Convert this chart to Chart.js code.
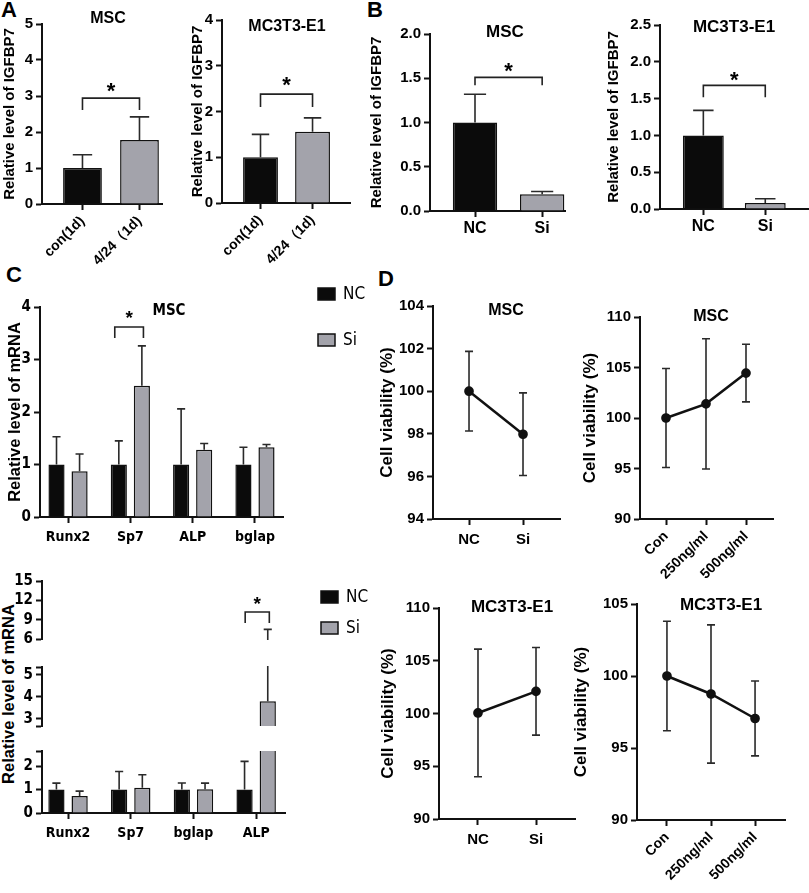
<!DOCTYPE html>
<html><head><meta charset="utf-8">
<script src="https://cdn.jsdelivr.net/npm/chart.js@4/dist/chart.umd.min.js"></script>
<style>
html,body{margin:0;padding:0;background:#fff}
body{width:809px;height:893px;position:relative;overflow:hidden;font-family:'Liberation Sans',Arial,sans-serif}
canvas{position:absolute}
.pl{position:absolute;font-weight:bold;font-size:22px;line-height:22px;color:#000}
.yt{position:absolute;width:240px;height:20px;line-height:20px;text-align:center;font-weight:bold;font-size:16.5px;transform:rotate(-90deg);white-space:nowrap;color:#000}
</style></head><body>
<div class="pl" style="left:1px;top:-1px">A</div>
<div class="pl" style="left:367px;top:-1px">B</div>
<div class="pl" style="left:6px;top:264px">C</div>
<div class="pl" style="left:378px;top:268px">D</div>
<div class="yt" style="left:-112px;top:684px">Relative level of mRNA</div>
<script>
// ---------- data ----------
const aLabels = ['con(1d)', '4/24\uFF081d)'];
const aMscMean = [1.0, 1.78];
const aMscErr  = [0.37, 0.64];
const aMc3Mean = [1.0, 1.56];
const aMc3Err  = [0.50, 0.30];
const aMscTicks = [0, 1, 2, 3, 4, 5];
const aMc3Ticks = [0, 1, 2, 3, 4];

const bLabels = ['NC', 'Si'];
const bMscMean = [1.0, 0.19];
const bMscErr  = [0.32, 0.03];
const bMc3Mean = [1.0, 0.08];
const bMc3Err  = [0.34, 0.06];
const bMscTicks = [0, 0.5, 1.0, 1.5, 2.0];
const bMc3Ticks = [0, 0.5, 1.0, 1.5, 2.0, 2.5];

const cTopGenes = ['Runx2', 'Sp7', 'ALP', 'bglap'];
const cTopNC    = [1.0, 1.0, 1.0, 1.0];
const cTopNCErr = [0.53, 0.45, 1.06, 0.33];
const cTopSi    = [0.87, 2.50, 1.28, 1.33];
const cTopSiErr = [0.33, 0.76, 0.12, 0.05];
const cTopTicks = [0, 1, 2, 3, 4];

const cBotGenes = ['Runx2', 'Sp7', 'bglap', 'ALP'];
const cBotNC    = [1.0, 1.0, 1.0, 1.0];
const cBotNCErr = [0.27, 0.77, 0.28, 1.20];
const cBotSi    = [0.72, 1.07, 1.01, 3.80];
const cBotSiErr = [0.21, 0.56, 0.26, 3.70];
const cBotTicksHigh = [6, 9, 12, 15];
const cBotTicksMid  = [2.68, 3, 4, 5, 5.36];
const cBotTicksLow  = [0, 1, 2, 2.64];

const dSiLabels   = ['NC', 'Si'];
const dDoseLabels = ['Con', '250ng/ml', '500ng/ml'];
const dMscSi      = [100.0, 97.98];
const dMscSiErr   = [1.87, 1.94];
const dMscDose    = [100.0, 101.4, 104.45];
const dMscDoseErr = [4.9, 6.45, 2.85];
const dMc3Si      = [100.05, 102.1];
const dMc3SiErr   = [6.05, 4.15];
const dMc3Dose    = [100.0, 98.75, 97.05];
const dMc3DoseErr = [3.8, 4.8, 2.6];
const dMscSiTicks   = [94, 96, 98, 100, 102, 104];
const dMscDoseTicks = [90, 95, 100, 105, 110];
const dMc3SiTicks   = [90, 95, 100, 105, 110];
const dMc3DoseTicks = [90, 95, 100, 105];

// ---------- styling ----------
const FAM = "'Liberation Sans', Arial, Helvetica, sans-serif";
const NAR = "'Liberation Sans Narrow', 'Arial Narrow', 'DejaVu Sans Condensed', 'Liberation Sans', sans-serif";
const BLACK = '#0b0b0b', GRAY = '#a3a3ab', INK = '#111';

function pts(vals){ return vals.map((v, i) => ({x: i, y: v})); }

function drawErrors(chart){
  const ctx = chart.ctx, ca = chart.chartArea, ys = chart.scales.y;
  ctx.save();
  ctx.beginPath(); ctx.rect(ca.left - 20, ca.top - 1, ca.right - ca.left + 40, ca.bottom - ca.top + 2); ctx.clip();
  ctx.strokeStyle = '#2a2a2a'; ctx.lineWidth = 1.6;
  chart.data.datasets.forEach((ds, di) => {
    if (!ds.err) return;
    const meta = chart.getDatasetMeta(di);
    const isBar = meta.type === 'bar';
    meta.data.forEach((el, i) => {
      const v = ds.data[i].y, e = ds.err[i];
      const x = el.x;
      const yHi = ys.getPixelForValue(v + e);
      const yLo = ys.getPixelForValue(isBar ? v : v - e);
      const cw = isBar ? el.width / 4 : 4;
      ctx.beginPath();
      ctx.moveTo(x, yLo); ctx.lineTo(x, yHi);
      ctx.moveTo(x - cw, yHi); ctx.lineTo(x + cw, yHi);
      if (!isBar) { ctx.moveTo(x - cw, yLo); ctx.lineTo(x + cw, yLo); }
      ctx.stroke();
    });
  });
  ctx.restore();
}

const extras = {
  id: 'extras',
  beforeDatasetsDraw(chart){ drawErrors(chart); },
  afterDraw(chart, args, o){
    const ctx = chart.ctx, xs = chart.scales.x, ys = chart.scales.y;
    ctx.save();
    ctx.strokeStyle = '#222'; ctx.lineWidth = 1.6; ctx.fillStyle = '#000';
    (o.brackets || []).forEach(b => {
      const x1 = xs.getPixelForValue(b.x1), x2 = xs.getPixelForValue(b.x2);
      const y = ys.getPixelForValue(b.y), yl = ys.getPixelForValue(b.leg);
      ctx.beginPath(); ctx.moveTo(x1, yl); ctx.lineTo(x1, y); ctx.lineTo(x2, y); ctx.lineTo(x2, yl); ctx.stroke();
      const s = b.size || 22;
      ctx.font = 'bold ' + s + 'px ' + FAM; ctx.textAlign = 'center'; ctx.textBaseline = 'alphabetic';
      ctx.fillText('*', (x1 + x2) / 2, ys.getPixelForValue(b.star) + 0.57 * s);
    });
    (o.texts || []).forEach(t => {
      ctx.font = t.f; ctx.textAlign = 'center'; ctx.textBaseline = 'middle';
      ctx.fillText(t.t, t.x - o.ox, t.y - o.oy);
    });
    if (o.legend) {
      chart.data.datasets.forEach((ds, i) => {
        const lx = o.legend.x - o.ox, ly = o.legend.ys[i] - o.oy;
        ctx.fillStyle = ds.backgroundColor; ctx.fillRect(lx, ly - 6, 17, 12);
        ctx.strokeStyle = '#111'; ctx.lineWidth = 1.5; ctx.strokeRect(lx, ly - 6, 17, 12);
        ctx.fillStyle = '#000'; ctx.font = '17px ' + NAR; ctx.textAlign = 'left'; ctx.textBaseline = 'middle';
        ctx.fillText(ds.label, lx + 25, ly + 1);
      });
    }
    ctx.restore();
  }
};

function mk(g){
  const w = g.R - g.L + g.pl + g.pr, h = g.B - g.T + g.pt + g.pb, ox = g.L - g.pl, oy = g.T - g.pt;
  const cv = document.createElement('canvas');
  cv.width = w; cv.height = h;
  cv.style.left = ox + 'px'; cv.style.top = oy + 'px'; cv.style.width = w + 'px'; cv.style.height = h + 'px';
  document.body.appendChild(cv);
  const fam = g.fam || FAM;
  const gridOpt = () => ({display: true, drawOnChartArea: false, drawTicks: true, offset: false, tickLength: 6, tickWidth: 2, tickColor: INK, color: INK});
  const borderOpt = () => ({display: true, width: 2, color: INK});
  return new Chart(cv, {
    type: g.type || 'bar',
    data: {datasets: g.datasets},
    options: {
      responsive: false, maintainAspectRatio: false, animation: false, devicePixelRatio: 1,
      layout: {padding: {left: 0, top: g.pt, right: g.pr, bottom: g.hideX ? g.pb : 0}},
      plugins: {legend: {display: false}, tooltip: {enabled: false},
        extras: {ox, oy, texts: g.texts || [], brackets: g.brackets || [], legend: g.legend || null}},
      scales: {
        x: {type: 'linear', min: g.xmin, max: g.xmax, display: !g.hideX, offset: false,
          afterBuildTicks: ax => { ax.ticks = g.labels.map((_, i) => ({value: i})); },
          afterFit: ax => { if (!g.hideX) ax.height = g.pb; },
          grid: gridOpt(), border: borderOpt(),
          ticks: {autoSkip: false, minRotation: g.rot || 0, maxRotation: g.rot || 0, padding: g.xpad ?? 3, color: '#000',
            font: {family: fam, size: g.xfs || 14, weight: 'bold'}, callback: v => g.labels[v] ?? ''}
        },
        y: {type: 'linear', min: g.ymin, max: g.ymax,
          afterBuildTicks: ax => { ax.ticks = g.yticks.map(v => ({value: v})); },
          afterFit: ax => { ax.width = g.pl; },
          grid: gridOpt(), border: borderOpt(),
          ticks: {autoSkip: false, padding: 3, color: '#000', font: {family: fam, size: g.tfs || 15, weight: 'bold'},
            callback: v => g.yfmt ? g.yfmt(v) : String(v)},
          title: {display: !!g.ytitle, text: g.ytitle || '', color: '#000',
            font: {family: FAM, size: g.yts || 15, weight: 'bold'}, padding: {top: g.ytp || 0, bottom: 0}}
        }
      }
    },
    plugins: [extras]
  });
}

function pairBars(mean, err, pct){
  return [{data: pts(mean), err, backgroundColor: [BLACK, GRAY], borderColor: INK, borderWidth: 1.5,
    barPercentage: pct, categoryPercentage: 1, clip: 0}];
}
function groupBars(nc, ncErr, si, siErr){
  return [
    {label: 'NC', data: pts(nc), err: ncErr, backgroundColor: BLACK, borderColor: INK, borderWidth: 1.5, barPercentage: 0.7, categoryPercentage: 0.74, clip: 0},
    {label: 'Si', data: pts(si), err: siErr, backgroundColor: GRAY, borderColor: INK, borderWidth: 1.5, barPercentage: 0.7, categoryPercentage: 0.74, clip: 0}
  ];
}
function lineSet(vals, err){
  return [{data: pts(vals), err, borderColor: INK, borderWidth: 2.5, pointRadius: 3.6, pointBackgroundColor: INK,
    pointBorderColor: INK, fill: false, tension: 0}];
}
const one = v => v.toFixed(1);
const intOnly = v => Number.isInteger(v) ? String(v) : '';

// ---------- A ----------
mk({L: 42, T: 24, R: 162, B: 204, pl: 42, pt: 20, pr: 10, pb: 68, xmin: -0.71, xmax: 1.395, labels: aLabels,
  ymin: 0, ymax: 5, yticks: aMscTicks, ytitle: 'Relative level of IGFBP7', ytp: 1, rot: 45, xfs: 14,
  datasets: pairBars(aMscMean, aMscErr, 0.68),
  brackets: [{x1: 0, x2: 1, y: 2.94, leg: 2.61, star: 3.28}],
  texts: [{t: 'MSC', x: 108, y: 19, f: 'bold 16px ' + FAM}]});
mk({L: 222, T: 20, R: 350, B: 203, pl: 37, pt: 16, pr: 8, pb: 68, xmin: -0.74, xmax: 1.72, labels: aLabels,
  ymin: 0, ymax: 4, yticks: aMc3Ticks, ytitle: 'Relative level of IGFBP7', ytp: 4, rot: 45, xfs: 14,
  datasets: pairBars(aMc3Mean, aMc3Err, 0.67),
  brackets: [{x1: 0, x2: 1, y: 2.38, leg: 2.1, star: 2.69}],
  texts: [{t: 'MC3T3-E1', x: 287, y: 27, f: 'bold 16px ' + FAM}]});

// ---------- B ----------
mk({L: 430, T: 34, R: 565, B: 211, pl: 64, pt: 30, pr: 10, pb: 30, xmin: -0.67, xmax: 1.34, labels: bLabels,
  ymin: 0, ymax: 2, yticks: bMscTicks, yfmt: one, ytitle: 'Relative level of IGFBP7', ytp: 2, xfs: 16, tfs: 15, xpad: 2,
  datasets: pairBars(bMscMean, bMscErr, 0.66),
  brackets: [{x1: 0, x2: 1, y: 1.51, leg: 1.42, star: 1.65}],
  texts: [{t: 'MSC', x: 505, y: 32, f: 'bold 17px ' + FAM}]});
mk({L: 660, T: 25, R: 808, B: 209, pl: 57, pt: 21, pr: 1, pb: 30, xmin: -0.70, xmax: 1.69, labels: bLabels,
  ymin: 0, ymax: 2.5, yticks: bMc3Ticks, yfmt: one, ytitle: 'Relative level of IGFBP7', ytp: 2, xfs: 16, tfs: 15, xpad: 2,
  datasets: pairBars(bMc3Mean, bMc3Err, 0.66),
  brackets: [{x1: 0, x2: 1, y: 1.68, leg: 1.52, star: 1.83}],
  texts: [{t: 'MC3T3-E1', x: 734, y: 27, f: 'bold 17px ' + FAM}]});

// ---------- C ----------
mk({L: 40, T: 307, R: 283, B: 517, pl: 36, pt: 35, pr: 90, pb: 35, xmin: -0.45, xmax: 3.45, labels: cTopGenes,
  ymin: 0, ymax: 4, yticks: cTopTicks, fam: NAR, tfs: 15, xfs: 14, xpad: 6,
  ytitle: 'Relative level of mRNA', yts: 16.5, ytp: 2,
  datasets: groupBars(cTopNC, cTopNCErr, cTopSi, cTopSiErr),
  brackets: [{x1: 0.75, x2: 1.21, y: 3.62, leg: 3.41, star: 3.89, size: 19}],
  texts: [{t: 'MSC', x: 169, y: 311, f: 'bold 15px ' + NAR}],
  legend: {x: 318, ys: [294, 340]}});
mk({L: 42, T: 581, R: 285, B: 643, pl: 38, pt: 25, pr: 90, pb: 8, hideX: true, xmin: -0.415, xmax: 3.46, labels: cBotGenes,
  ymin: 6, ymax: 15, yticks: cBotTicksHigh, fam: NAR, tfs: 15, yfmt: intOnly,
  datasets: groupBars(cBotNC, cBotNCErr, cBotSi, cBotSiErr),
  brackets: [{x1: 2.825, x2: 3.21, y: 10.2, leg: 8.5, star: 12.2, size: 19}],
  legend: {x: 321, ys: [597, 628]}});
mk({L: 42, T: 663, R: 285, B: 730, pl: 38, pt: 8, pr: 10, pb: 8, hideX: true, xmin: -0.415, xmax: 3.46, labels: cBotGenes,
  ymin: 2.68, ymax: 5.36, yticks: cBotTicksMid, fam: NAR, tfs: 15, yfmt: intOnly,
  datasets: groupBars(cBotNC, cBotNCErr, cBotSi, cBotSiErr)});
mk({L: 42, T: 747, R: 285, B: 813, pl: 38, pt: 8, pr: 10, pb: 35, xmin: -0.415, xmax: 3.46, labels: cBotGenes,
  ymin: 0, ymax: 2.64, yticks: cBotTicksLow, fam: NAR, tfs: 15, xfs: 14, xpad: 6, yfmt: intOnly,
  datasets: groupBars(cBotNC, cBotNCErr, cBotSi, cBotSiErr)});

// ---------- D ----------
mk({type: 'line', L: 433, T: 306, R: 560, B: 519, pl: 58, pt: 20, pr: 10, pb: 35, xmin: -0.667, xmax: 1.685, labels: dSiLabels,
  ymin: 94, ymax: 104, yticks: dMscSiTicks, ytitle: 'Cell viability (%)', yts: 17, ytp: 2, xfs: 15, xpad: 6,
  datasets: lineSet(dMscSi, dMscSiErr),
  texts: [{t: 'MSC', x: 506, y: 311, f: 'bold 16px ' + FAM}]});
mk({type: 'line', L: 640, T: 317, R: 773, B: 519, pl: 62, pt: 20, pr: 10, pb: 60, xmin: -0.65, xmax: 2.675, labels: dDoseLabels,
  ymin: 90, ymax: 110, yticks: dMscDoseTicks, ytitle: 'Cell viability (%)', yts: 17, ytp: 2, xfs: 14, rot: 45,
  datasets: lineSet(dMscDose, dMscDoseErr),
  texts: [{t: 'MSC', x: 711, y: 317, f: 'bold 16px ' + FAM}]});
mk({type: 'line', L: 439, T: 608, R: 575, B: 819, pl: 63, pt: 20, pr: 10, pb: 40, xmin: -0.672, xmax: 1.672, labels: dSiLabels,
  ymin: 90, ymax: 110, yticks: dMc3SiTicks, ytitle: 'Cell viability (%)', yts: 17, ytp: 2, xfs: 15, xpad: 6,
  datasets: lineSet(dMc3Si, dMc3SiErr),
  texts: [{t: 'MC3T3-E1', x: 512, y: 607, f: 'bold 17px ' + FAM}]});
mk({type: 'line', L: 637, T: 604, R: 785, B: 820, pl: 68, pt: 20, pr: 10, pb: 70, xmin: -0.68, xmax: 2.68, labels: dDoseLabels,
  ymin: 90, ymax: 105, yticks: dMc3DoseTicks, ytitle: 'Cell viability (%)', yts: 17, ytp: 2, xfs: 14, rot: 45,
  datasets: lineSet(dMc3Dose, dMc3DoseErr),
  texts: [{t: 'MC3T3-E1', x: 721, y: 605, f: 'bold 17px ' + FAM}]});
</script>
</body></html>
